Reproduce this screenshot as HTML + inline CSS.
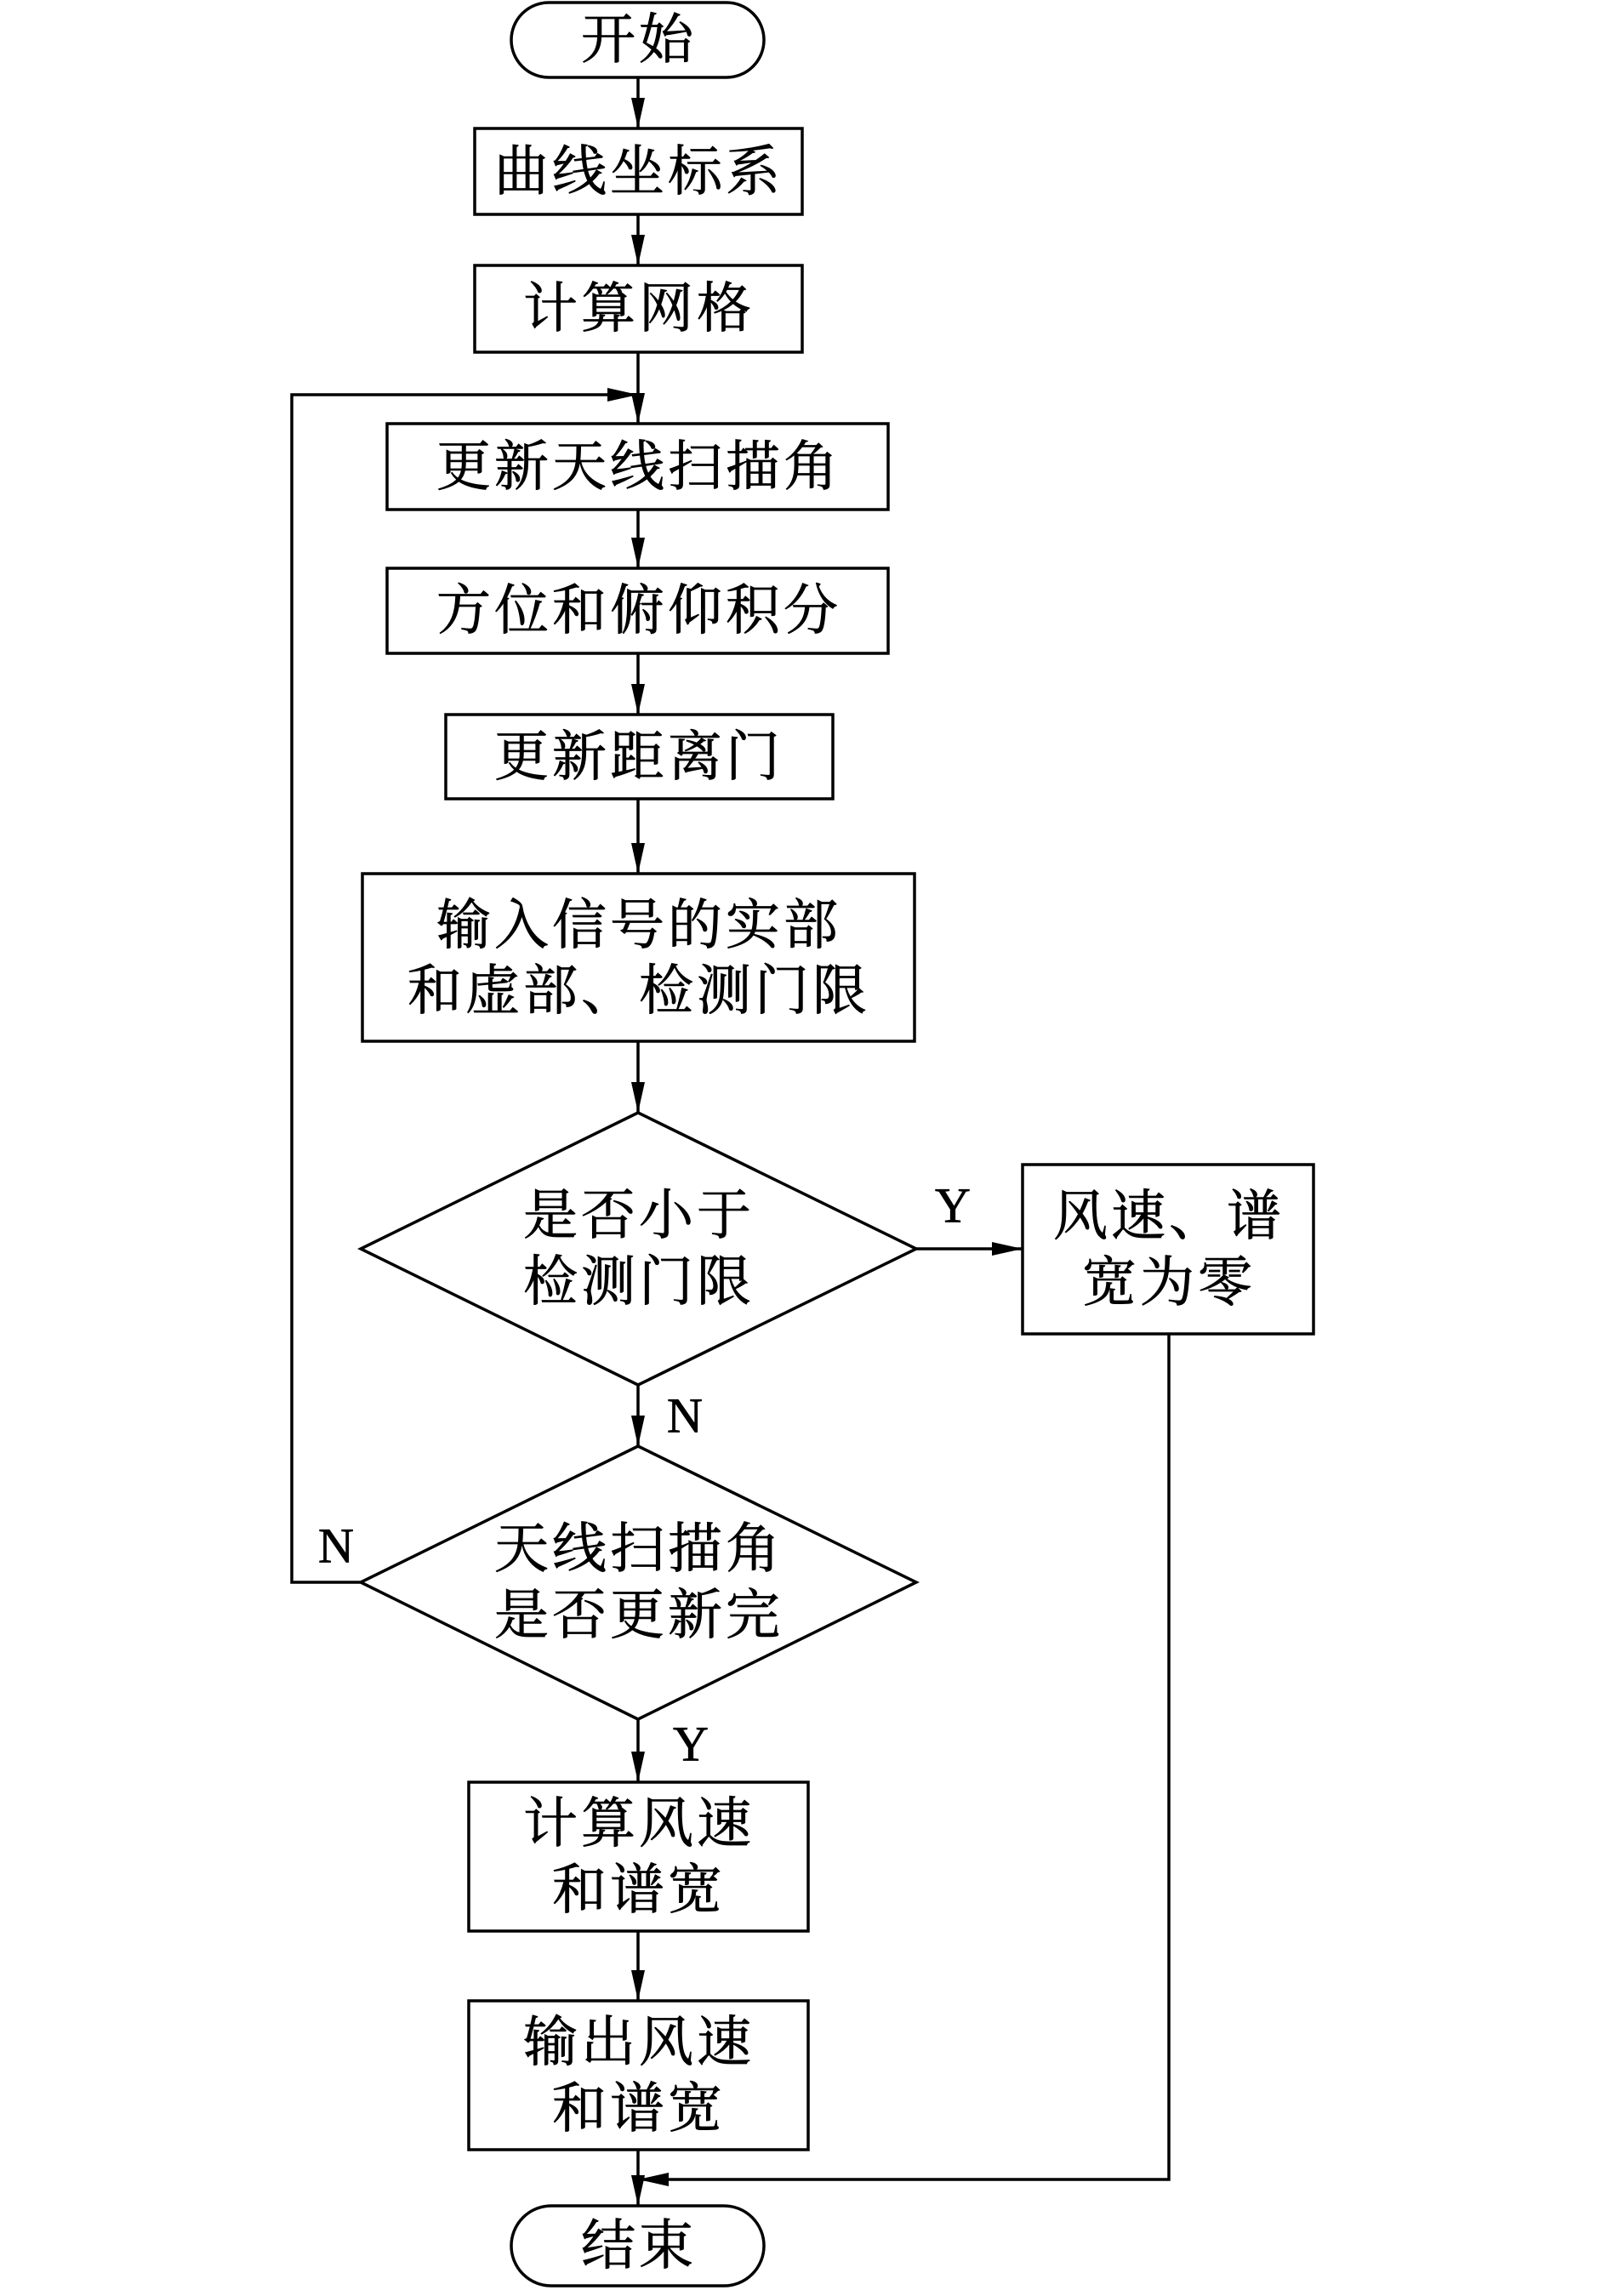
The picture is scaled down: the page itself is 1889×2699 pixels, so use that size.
<!DOCTYPE html>
<html><head><meta charset="utf-8"><style>
html,body{margin:0;padding:0;background:#fff;}
svg text{font-family:"Liberation Serif","Noto Serif CJK SC",serif;font-size:64px;fill:#000;stroke:#000;stroke-width:0.8;text-anchor:middle;dominant-baseline:central;letter-spacing:4px;}
</style></head><body>
<svg width="1889" height="2694" viewBox="0 0 1889 2694" xmlns="http://www.w3.org/2000/svg">
<defs>
<marker id="b" markerWidth="36" markerHeight="16" refX="36" refY="8" orient="auto" markerUnits="userSpaceOnUse"><path d="M0,0 L36,8 L0,16 Z" fill="#000"/></marker></defs>
<g fill="none" stroke="#000" stroke-width="3.5">
<rect x="601" y="3" width="297" height="88" rx="44"/>
<rect x="558" y="151" width="385" height="101"/>
<rect x="558" y="312" width="385" height="102"/>
<rect x="455" y="498" width="589" height="101"/>
<rect x="455" y="668" width="589" height="100"/>
<rect x="524" y="840" width="455" height="99"/>
<rect x="426" y="1027" width="649" height="197"/>
<polygon points="750,1308 1077,1468 750,1628 424,1468"/>
<rect x="1202" y="1369" width="342" height="199"/>
<polygon points="750,1700 1077,1860 750,2021 424,1860"/>
<rect x="551" y="2095" width="399" height="175"/>
<rect x="551" y="2352" width="399" height="175"/>
<rect x="601" y="2593" width="297" height="94" rx="47"/>
<g marker-end="url(#b)">
<line x1="750" y1="91" x2="750" y2="151"/>
<line x1="750" y1="252" x2="750" y2="312"/>
<line x1="750" y1="414" x2="750" y2="498"/>
<line x1="750" y1="599" x2="750" y2="668"/>
<line x1="750" y1="768" x2="750" y2="840"/>
<line x1="750" y1="939" x2="750" y2="1027"/>
<line x1="750" y1="1224" x2="750" y2="1308"/>
<line x1="750" y1="1628" x2="750" y2="1700"/>
<line x1="750" y1="2021" x2="750" y2="2095"/>
<line x1="750" y1="2270" x2="750" y2="2352"/>
<line x1="750" y1="2527" x2="750" y2="2593"/>
<line x1="1077" y1="1468" x2="1202" y2="1468"/>
<polyline points="424,1860 343,1860 343,464 750,464"/>
<polyline points="1374,1568 1374,2562 750,2562"/>
</g>
</g>
<text x="751" y="47">开始</text>
<text x="751" y="202">曲线坐标系</text>
<text x="751" y="363">计算网格</text>
<text x="751" y="549">更新天线扫描角</text>
<text x="751" y="718">方位和俯仰积分</text>
<text x="751" y="890">更新距离门</text>
<text x="751" y="1088">输入信号的实部</text>
<text x="751" y="1165">和虚部、检测门限</text>
<text x="751" y="1429">是否小于</text>
<text x="751" y="1507">检测门限</text>
<text x="1374" y="1430">风速、谱</text>
<text x="1374" y="1508">宽为零</text>
<text x="751" y="1821">天线扫描角</text>
<text x="751" y="1899">是否更新完</text>
<text x="751" y="2144">计算风速</text>
<text x="751" y="2222">和谱宽</text>
<text x="751" y="2401">输出风速</text>
<text x="751" y="2479">和谱宽</text>
<text x="751" y="2640">结束</text>
<text x="1120" y="1417" style="font-size:58px;letter-spacing:0">Y</text>
<text x="805" y="1664" style="font-size:58px;letter-spacing:0">N</text>
<text x="395" y="1817" style="font-size:58px;letter-spacing:0">N</text>
<text x="812" y="2050" style="font-size:58px;letter-spacing:0">Y</text>
</svg>
</body></html>
